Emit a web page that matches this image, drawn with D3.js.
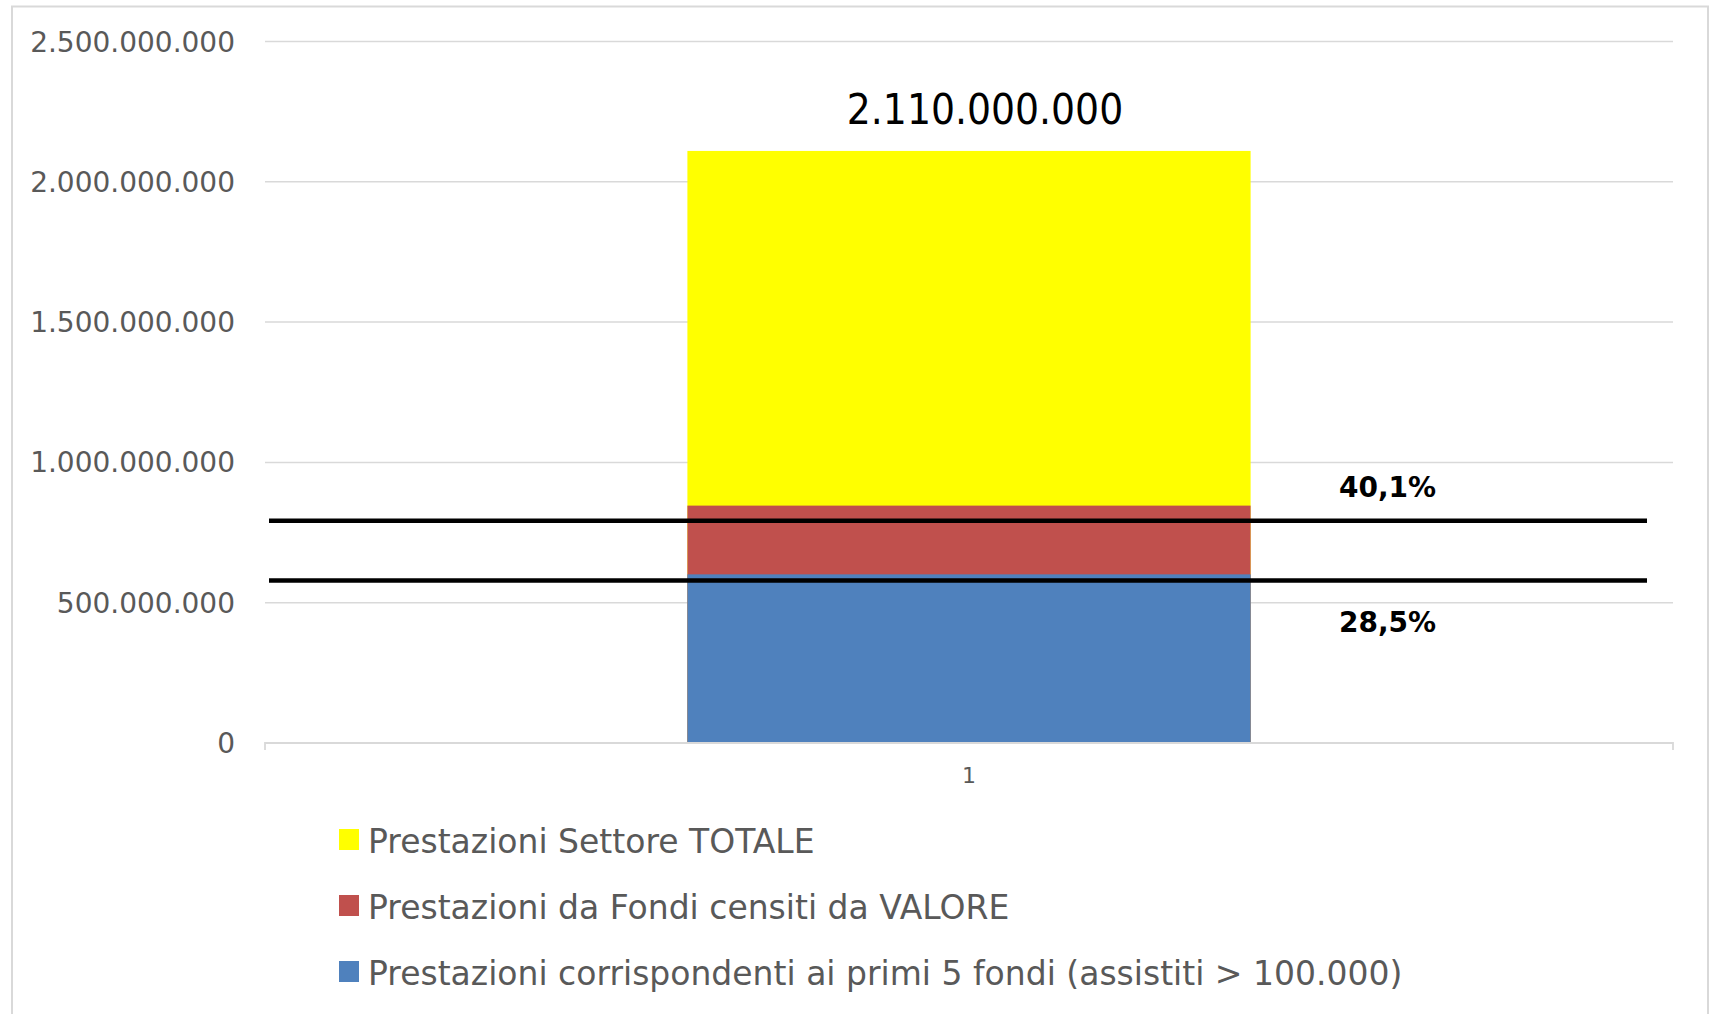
<!DOCTYPE html>
<html>
<head>
<meta charset="utf-8">
<script src="https://cdn.jsdelivr.net/npm/d3@7"></script>
<style>
  html, body { margin: 0; padding: 0; background: #fff; }
  #chart { width: 1710px; height: 1014px; }
</style>
</head>
<body>
<div id="chart"></div>
<script>
// data
var categories = ["1"];
var seriesNames = [
    "Prestazioni Settore TOTALE",
    "Prestazioni da Fondi censiti da VALORE",
    "Prestazioni corrispondenti ai primi 5 fondi (assistiti > 100.000)"
];
var seriesValues = [2110000000, 846000000, 601000000];
var yTicks = [0, 500000000, 1000000000, 1500000000, 2000000000, 2500000000];
var refLines = [792000000, 579000000];
var refLabels = ["40,1%", "28,5%"];

var colors = ["#FFFF00", "#C0504D", "#4F81BD"];

var width = 1710, height = 1014;
var plot = { left: 265, right: 1673, top: 41.5, bottom: 743 };

var it = d3.formatLocale({ decimal: ",", thousands: ".", grouping: [3], currency: ["€", ""] });
var fmt = it.format(",d");

var svg = d3.select("#chart")
    .append("svg")
    .attr("width", width)
    .attr("height", height);

// chart frame
svg.append("rect")
    .attr("x", 12).attr("y", 6.5)
    .attr("width", 1696).attr("height", 1100)
    .attr("fill", "#fff")
    .attr("stroke", "#d9d9d9")
    .attr("stroke-width", 2);

var xScale = d3.scaleBand()
    .domain(categories)
    .range([plot.left, plot.right])
    .paddingInner(0)
    .paddingOuter(0.75);

var yScale = d3.scaleLinear()
    .domain([0, 2500000000])
    .range([plot.bottom, plot.top]);

// gridlines
svg.append("g")
    .selectAll("line")
    .data(yTicks.slice(1))
    .join("line")
    .attr("x1", plot.left).attr("x2", plot.right)
    .attr("y1", d => yScale(d)).attr("y2", d => yScale(d))
    .attr("stroke", "#d9d9d9")
    .attr("stroke-width", 1.5);

// y tick labels
svg.append("g")
    .selectAll("text")
    .data(yTicks)
    .join("text")
    .attr("x", 235)
    .attr("y", d => yScale(d))
    .attr("dy", "0.36em")
    .attr("text-anchor", "end")
    .style("font-family", "'DejaVu Sans'")
    .style("font-size", "28px")
    .style("fill", "#595959")
    .text(d => fmt(d));

// bars: overlapping, largest first
svg.append("g")
    .selectAll("rect")
    .data(seriesValues)
    .join("rect")
    .attr("x", xScale(categories[0]))
    .attr("width", xScale.bandwidth())
    .attr("y", d => yScale(d))
    .attr("height", d => yScale(0) - yScale(d))
    .attr("fill", (d, i) => colors[i]);

// x axis
var xAxis = svg.append("g")
    .attr("transform", `translate(0,${plot.bottom})`)
    .call(d3.axisBottom(xScale).tickSize(0).tickPadding(0));
xAxis.select(".domain").remove();
xAxis.selectAll("text")
    .attr("y", 24)
    .style("font-family", "'DejaVu Sans'")
    .style("font-size", "22px")
    .style("fill", "#595959");
svg.append("path")
    .attr("d", `M${plot.left},${plot.bottom + 7}V${plot.bottom}H${plot.right}V${plot.bottom + 7}`)
    .attr("fill", "none")
    .attr("stroke", "#d9d9d9")
    .attr("stroke-width", 1.8);

// total label above the bar
svg.append("text")
    .attr("x", xScale(categories[0]) + xScale.bandwidth() / 2 + 16)
    .attr("y", yScale(seriesValues[0]) - 27)
    .attr("text-anchor", "middle")
    .style("font-family", "'DejaVu Sans Condensed', 'DejaVu Sans'")
    .style("font-size", "42px")
    .style("fill", "#000")
    .text(fmt(seriesValues[0]));

// reference lines
svg.append("g")
    .selectAll("line")
    .data(refLines)
    .join("line")
    .attr("x1", 269).attr("x2", 1647)
    .attr("y1", d => yScale(d)).attr("y2", d => yScale(d))
    .attr("stroke", "#000")
    .attr("stroke-width", 4.5);

var labelOffsets = [-24, 51];
svg.append("g")
    .selectAll("text")
    .data(refLabels)
    .join("text")
    .attr("x", xScale(categories[0]) + xScale.bandwidth() + 137)
    .attr("y", (d, i) => yScale(refLines[i]) + labelOffsets[i])
    .attr("text-anchor", "middle")
    .style("font-family", "'DejaVu Sans'")
    .style("font-weight", "bold")
    .style("font-size", "28px")
    .style("fill", "#000")
    .text(d => d);

// legend
var legend = svg.append("g")
    .attr("transform", "translate(339,853)");
var items = legend.selectAll("g")
    .data(seriesNames)
    .join("g")
    .attr("transform", (d, i) => `translate(0,${i * 66})`);
items.append("rect")
    .attr("x", 0).attr("y", -24)
    .attr("width", 20).attr("height", 21)
    .attr("fill", (d, i) => colors[i]);
items.append("text")
    .attr("x", 29).attr("y", 0)
    .style("font-family", "'DejaVu Sans'")
    .style("font-size", "33px")
    .style("fill", "#595959")
    .text(d => d);
</script>
</body>
</html>
